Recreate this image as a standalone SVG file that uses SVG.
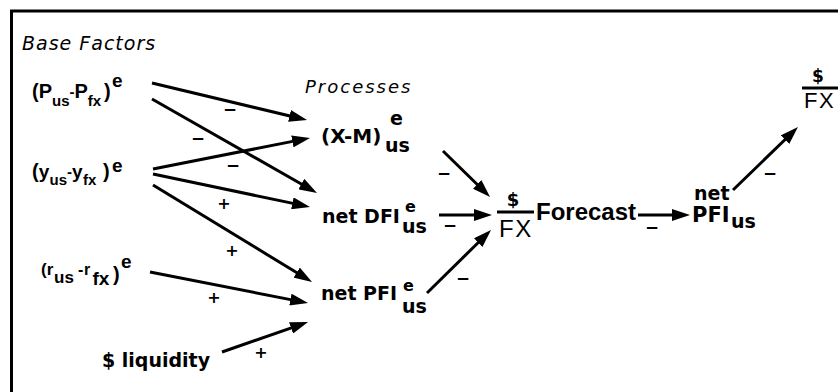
<svg xmlns="http://www.w3.org/2000/svg" width="838" height="392" viewBox="0 0 838 392">
<style>
.b{font-family:"DejaVu Sans",sans-serif;font-weight:bold;fill:#000}
.r{font-family:"Liberation Sans",Arial,sans-serif;font-weight:normal;fill:#000}
.lb{font-family:"Liberation Sans",Arial,sans-serif;font-weight:bold;fill:#000}
.it{font-family:"DejaVu Sans",sans-serif;font-style:italic;fill:#000}
.ln{stroke:#000;stroke-width:3;fill:none;marker-end:url(#ah)}
.bar{stroke:#000;stroke-width:3}
.neg{font-family:"Liberation Sans",Arial,sans-serif;font-weight:bold;font-size:21px;text-anchor:middle}
.pos{font-family:"DejaVu Sans",sans-serif;font-weight:bold;font-size:16px;text-anchor:middle}
</style>
<defs>
<marker id="ah" markerUnits="userSpaceOnUse" markerWidth="18" markerHeight="12" refX="8" refY="6" orient="auto">
<path d="M0,0 L18,6 L0,12 z" fill="#000"/>
</marker>
</defs>
<rect width="838" height="392" fill="#fff"/>
<rect id="frame" x="11.5" y="11" width="900" height="500" fill="none" stroke="#000" stroke-width="3"/>

<g id="title-base"><text class="it" x="22" y="50" font-size="19" letter-spacing="1">Base Factors</text></g>
<g id="title-proc"><text class="it" x="305" y="93" font-size="18" letter-spacing="2">Processes</text></g>

<g id="n-p">
<text class="lb" font-size="20"><tspan x="32" y="98">(</tspan><tspan x="38.7" y="98">P</tspan><tspan x="52" y="106" font-size="15">us</tspan><tspan x="69.5" y="97" font-size="15">-</tspan><tspan x="74.5" y="98">P</tspan><tspan x="87.8" y="106" font-size="15">fx</tspan><tspan x="104" y="98">)</tspan><tspan x="112" y="87" font-size="19">e</tspan></text>
</g>
<g id="n-y">
<text class="lb" font-size="20"><tspan x="32" y="178">(</tspan><tspan x="38.7" y="178" font-size="19">y</tspan><tspan x="49.5" y="185" font-size="15">us</tspan><tspan x="67" y="177" font-size="15">-</tspan><tspan x="72" y="178" font-size="19">y</tspan><tspan x="83" y="185" font-size="15">fx</tspan><tspan x="103" y="178">)</tspan><tspan x="112" y="172" font-size="19">e</tspan></text>
</g>
<g id="n-r">
<text class="lb" font-size="17"><tspan x="41" y="275">(</tspan><tspan x="46.7" y="275">r</tspan><tspan x="54" y="283">us</tspan><tspan x="78" y="275" font-size="16">-</tspan><tspan x="84" y="275" font-size="16">r</tspan><tspan x="92.5" y="285" font-size="19">fx</tspan><tspan x="113" y="281" font-size="20">)</tspan><tspan x="121" y="268" font-size="19">e</tspan></text>
</g>
<g id="n-liq"><text class="b" x="102" y="367" font-size="19">$ liquidity</text></g>

<g id="n-xm">
<text class="b" font-size="20"><tspan x="321" y="143">(X-M)</tspan><tspan x="390" y="125" font-size="19">e</tspan><tspan x="385" y="152" font-size="19">us</tspan></text>
</g>
<g id="n-dfi">
<text class="b" font-size="19"><tspan x="322" y="223">net DFI</tspan><tspan x="405" y="212" font-size="16">e</tspan><tspan x="402" y="233">us</tspan></text>
</g>
<g id="n-pfi">
<text class="b" font-size="19"><tspan x="321" y="300">net PFI</tspan><tspan x="403" y="291" font-size="16">e</tspan><tspan x="402" y="313">us</tspan></text>
</g>

<g id="n-forecast">
<text class="b" x="513" y="206" font-size="18" text-anchor="middle">$</text>
<line class="bar" x1="497" y1="212" x2="534" y2="212"/>
<text class="r" x="499" y="237" font-size="24" letter-spacing="1.5">FX</text>
<text class="lb" x="536" y="220" font-size="24">Forecast</text>
</g>

<g id="n-netpfi">
<text class="b" font-size="19"><tspan x="694" y="200">net</tspan><tspan x="692" y="222" font-size="21">PFI</tspan><tspan x="731" y="228">us</tspan></text>
</g>

<g id="n-fx">
<text class="b" x="818" y="82" font-size="17" text-anchor="middle">$</text>
<line class="bar" x1="802" y1="88" x2="840" y2="88"/>
<text class="r" x="804" y="108" font-size="22" letter-spacing="1.5">FX</text>
</g>

<g id="connectors">
<g><line class="ln" x1="152" y1="83" x2="297.3" y2="117.7"/><text class="neg" x="230" y="115">–</text></g>
<g><line class="ln" x1="152" y1="99" x2="308.3" y2="188"/><text class="neg" x="198" y="144">–</text></g>
<g><line class="ln" x1="153" y1="169" x2="300.2" y2="139.9"/><text class="neg" x="233" y="171">–</text></g>
<g><line class="ln" x1="153" y1="174" x2="300.2" y2="204.9"/><text class="pos" x="224" y="209">+</text></g>
<g><line class="ln" x1="153" y1="185" x2="303.5" y2="276.8"/><text class="pos" x="232" y="256">+</text></g>
<g><line class="ln" x1="150" y1="272" x2="298.2" y2="301.1"/><text class="pos" x="214" y="303">+</text></g>
<g><line class="ln" x1="222" y1="352" x2="298.6" y2="325.3"/><text class="pos" x="261" y="358">+</text></g>
<g><line class="ln" x1="443" y1="151" x2="482.9" y2="190"/><text class="neg" x="444" y="179">–</text></g>
<g><line class="ln" x1="439" y1="215" x2="482" y2="215"/><text class="neg" x="450" y="231">–</text></g>
<g><line class="ln" x1="427" y1="293" x2="483.9" y2="237"/><text class="neg" x="463" y="284">–</text></g>
<g><line class="ln" x1="638" y1="215" x2="680" y2="215"/><text class="neg" x="652" y="233">–</text></g>
<g><line class="ln" x1="733" y1="190" x2="790.8" y2="134"/><text class="neg" x="770" y="179">–</text></g>
</g>
</svg>
